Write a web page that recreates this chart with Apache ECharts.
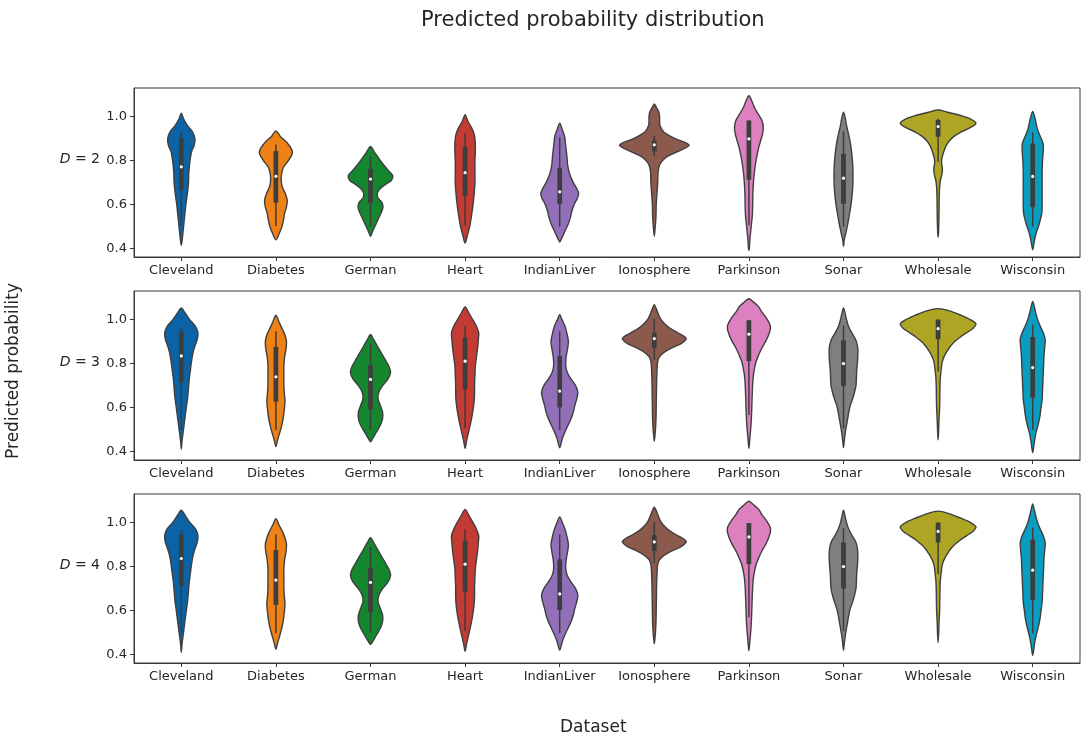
<!DOCTYPE html>
<html>
<head>
<meta charset="utf-8">
<script src="https://cdn.jsdelivr.net/npm/echarts@6/dist/echarts.min.js"></script>
<style>
  html, body { margin: 0; padding: 0; background: #fff; }
  #chart { width: 1081px; height: 738px; }
</style>
</head>
<body>
<div id="chart"></div>
<script>
// Datasets along the x axis of every panel
const categories = ['Cleveland', 'Diabetes', 'German', 'Heart', 'IndianLiver',
  'Ionosphere', 'Parkinson', 'Sonar', 'Wholesale', 'Wisconsin'];
// Tree depth of each panel
const depths = [2, 3, 4];
const yTicks = [0.4, 0.6, 0.8, 1.0];

// Violin profiles: [predicted probability, relative density] from top tip to bottom tip
const shapeD2 = [
  [[1.015,0],[0.99,0.06],[0.96,0.16],[0.93,0.3],[0.90,0.36],[0.87,0.34],[0.84,0.27],[0.80,0.23],[0.75,0.2],[0.70,0.19],[0.65,0.16],[0.60,0.12],[0.55,0.09],[0.50,0.06],[0.45,0.03],[0.415,0]],
  [[0.935,0],[0.91,0.12],[0.88,0.3],[0.85,0.42],[0.83,0.43],[0.80,0.33],[0.77,0.2],[0.74,0.15],[0.71,0.14],[0.68,0.17],[0.65,0.25],[0.62,0.3],[0.59,0.28],[0.56,0.23],[0.53,0.2],[0.50,0.16],[0.47,0.09],[0.44,0]],
  [[0.864,0],[0.84,0.1],[0.81,0.22],[0.78,0.35],[0.75,0.5],[0.73,0.59],[0.71,0.55],[0.69,0.38],[0.67,0.24],[0.65,0.18],[0.63,0.2],[0.61,0.3],[0.59,0.33],[0.57,0.3],[0.54,0.22],[0.51,0.14],[0.48,0.06],[0.456,0]],
  [[1.009,0],[0.98,0.07],[0.95,0.17],[0.92,0.24],[0.88,0.27],[0.84,0.27],[0.80,0.26],[0.75,0.26],[0.70,0.26],[0.65,0.24],[0.60,0.21],[0.55,0.17],[0.50,0.12],[0.46,0.06],[0.425,0]],
  [[0.97,0],[0.94,0.07],[0.91,0.13],[0.88,0.15],[0.85,0.17],[0.82,0.19],[0.78,0.21],[0.74,0.26],[0.70,0.36],[0.67,0.46],[0.65,0.5],[0.63,0.47],[0.60,0.38],[0.57,0.32],[0.54,0.28],[0.51,0.22],[0.48,0.14],[0.45,0.06],[0.43,0]],
  [[1.057,0],[1.04,0.06],[1.02,0.12],[1.0,0.14],[0.98,0.14],[0.96,0.15],[0.93,0.25],[0.90,0.55],[0.88,0.85],[0.87,0.92],[0.86,0.85],[0.84,0.6],[0.82,0.36],[0.80,0.22],[0.78,0.14],[0.75,0.1],[0.70,0.09],[0.65,0.07],[0.60,0.05],[0.55,0.045],[0.52,0.035],[0.49,0.02],[0.456,0]],
  [[1.095,0],[1.07,0.08],[1.04,0.15],[1.01,0.25],[0.98,0.35],[0.95,0.38],[0.92,0.36],[0.89,0.31],[0.86,0.26],[0.82,0.21],[0.78,0.17],[0.74,0.14],[0.70,0.12],[0.65,0.105],[0.60,0.1],[0.55,0.09],[0.50,0.06],[0.45,0.03],[0.40,0.01],[0.393,0]],
  [[1.02,0],[0.99,0.05],[0.96,0.08],[0.93,0.12],[0.90,0.16],[0.87,0.19],[0.83,0.22],[0.79,0.24],[0.75,0.25],[0.71,0.25],[0.67,0.24],[0.63,0.22],[0.59,0.19],[0.55,0.15],[0.51,0.11],[0.47,0.06],[0.44,0.02],[0.41,0]],
  [[1.03,0],[1.02,0.25],[1.005,0.6],[0.99,0.85],[0.97,1.0],[0.95,0.85],[0.93,0.6],[0.91,0.42],[0.89,0.3],[0.87,0.22],[0.85,0.17],[0.83,0.13],[0.81,0.1],[0.79,0.09],[0.77,0.11],[0.75,0.11],[0.73,0.09],[0.71,0.06],[0.68,0.04],[0.64,0.03],[0.58,0.025],[0.52,0.02],[0.47,0.01],[0.453,0]],
  [[1.024,0],[1.0,0.05],[0.97,0.09],[0.94,0.13],[0.91,0.2],[0.88,0.27],[0.85,0.28],[0.80,0.26],[0.75,0.25],[0.70,0.25],[0.65,0.25],[0.60,0.25],[0.56,0.24],[0.53,0.2],[0.50,0.15],[0.47,0.09],[0.44,0.05],[0.41,0.02],[0.395,0]]
];

const shapeD3 = [
  [[1.053,0],[1.03,0.1],[1.0,0.22],[0.97,0.37],[0.94,0.44],[0.91,0.42],[0.88,0.36],[0.85,0.31],[0.81,0.27],[0.77,0.24],[0.73,0.21],[0.69,0.19],[0.65,0.17],[0.61,0.14],[0.57,0.11],[0.53,0.08],[0.49,0.05],[0.45,0.02],[0.412,0]],
  [[1.02,0],[0.99,0.08],[0.96,0.16],[0.93,0.24],[0.90,0.28],[0.87,0.27],[0.83,0.23],[0.79,0.21],[0.75,0.21],[0.71,0.21],[0.67,0.22],[0.63,0.24],[0.59,0.22],[0.55,0.19],[0.51,0.14],[0.48,0.09],[0.45,0.04],[0.423,0]],
  [[0.932,0],[0.91,0.08],[0.88,0.18],[0.85,0.28],[0.82,0.38],[0.79,0.48],[0.76,0.53],[0.73,0.46],[0.70,0.32],[0.67,0.22],[0.64,0.2],[0.61,0.26],[0.58,0.32],[0.55,0.32],[0.52,0.26],[0.49,0.16],[0.46,0.06],[0.445,0]],
  [[1.057,0],[1.03,0.1],[1.0,0.2],[0.97,0.3],[0.94,0.36],[0.91,0.35],[0.87,0.33],[0.83,0.3],[0.79,0.27],[0.75,0.26],[0.71,0.25],[0.67,0.25],[0.63,0.24],[0.59,0.21],[0.55,0.17],[0.51,0.12],[0.48,0.08],[0.45,0.04],[0.415,0]],
  [[1.023,0],[1.0,0.06],[0.97,0.14],[0.93,0.2],[0.90,0.23],[0.87,0.21],[0.83,0.17],[0.79,0.16],[0.76,0.2],[0.73,0.3],[0.70,0.42],[0.67,0.48],[0.64,0.45],[0.61,0.4],[0.58,0.36],[0.55,0.3],[0.52,0.22],[0.49,0.14],[0.46,0.07],[0.418,0]],
  [[1.068,0],[1.05,0.05],[1.02,0.12],[1.0,0.18],[0.98,0.28],[0.96,0.42],[0.94,0.62],[0.92,0.82],[0.91,0.84],[0.89,0.7],[0.87,0.45],[0.85,0.25],[0.83,0.13],[0.81,0.09],[0.78,0.075],[0.74,0.065],[0.70,0.06],[0.65,0.055],[0.60,0.05],[0.55,0.045],[0.50,0.03],[0.47,0.015],[0.448,0]],
  [[1.095,0],[1.08,0.12],[1.06,0.25],[1.04,0.32],[1.01,0.45],[0.98,0.55],[0.96,0.57],[0.93,0.52],[0.90,0.44],[0.87,0.34],[0.84,0.26],[0.81,0.19],[0.78,0.15],[0.75,0.12],[0.71,0.1],[0.67,0.09],[0.62,0.08],[0.57,0.07],[0.52,0.055],[0.48,0.035],[0.45,0.02],[0.415,0]],
  [[1.053,0],[1.03,0.04],[1.0,0.08],[0.97,0.13],[0.94,0.22],[0.91,0.32],[0.88,0.37],[0.85,0.38],[0.81,0.37],[0.77,0.35],[0.73,0.34],[0.70,0.33],[0.67,0.29],[0.64,0.24],[0.61,0.18],[0.58,0.14],[0.55,0.11],[0.52,0.08],[0.49,0.05],[0.45,0.02],[0.418,0]],
  [[1.05,0],[1.04,0.3],[1.02,0.6],[1.0,0.85],[0.98,1.0],[0.96,0.92],[0.94,0.75],[0.92,0.58],[0.90,0.44],[0.88,0.33],[0.86,0.25],[0.84,0.18],[0.82,0.13],[0.80,0.1],[0.77,0.08],[0.74,0.06],[0.70,0.05],[0.65,0.045],[0.60,0.04],[0.55,0.025],[0.50,0.015],[0.453,0]],
  [[1.083,0],[1.06,0.04],[1.03,0.08],[1.0,0.13],[0.97,0.2],[0.94,0.28],[0.91,0.33],[0.88,0.32],[0.84,0.3],[0.80,0.29],[0.76,0.28],[0.72,0.27],[0.68,0.26],[0.64,0.25],[0.60,0.22],[0.56,0.19],[0.52,0.14],[0.48,0.08],[0.44,0.04],[0.395,0]]
];

const shapeD4 = [
  [[1.056,0],[1.03,0.11],[1.0,0.23],[0.97,0.38],[0.94,0.44],[0.91,0.42],[0.88,0.36],[0.85,0.31],[0.81,0.27],[0.77,0.24],[0.73,0.21],[0.69,0.19],[0.65,0.17],[0.61,0.14],[0.57,0.11],[0.53,0.08],[0.49,0.05],[0.45,0.02],[0.41,0]],
  [[1.018,0],[0.99,0.08],[0.96,0.17],[0.93,0.24],[0.90,0.28],[0.87,0.27],[0.83,0.23],[0.79,0.21],[0.75,0.21],[0.71,0.21],[0.67,0.22],[0.63,0.24],[0.59,0.22],[0.55,0.19],[0.51,0.14],[0.48,0.09],[0.45,0.04],[0.425,0]],
  [[0.931,0],[0.91,0.08],[0.88,0.18],[0.85,0.28],[0.82,0.38],[0.79,0.48],[0.76,0.53],[0.73,0.46],[0.70,0.32],[0.67,0.22],[0.64,0.2],[0.61,0.26],[0.58,0.32],[0.55,0.32],[0.52,0.26],[0.49,0.16],[0.46,0.06],[0.447,0]],
  [[1.06,0],[1.03,0.11],[1.0,0.21],[0.97,0.3],[0.94,0.36],[0.91,0.35],[0.87,0.33],[0.83,0.3],[0.79,0.27],[0.75,0.26],[0.71,0.25],[0.67,0.25],[0.63,0.24],[0.59,0.21],[0.55,0.17],[0.51,0.12],[0.48,0.08],[0.45,0.04],[0.415,0]],
  [[1.026,0],[1.0,0.07],[0.97,0.14],[0.93,0.2],[0.90,0.23],[0.87,0.21],[0.83,0.17],[0.79,0.16],[0.76,0.2],[0.73,0.3],[0.70,0.42],[0.67,0.48],[0.64,0.45],[0.61,0.4],[0.58,0.36],[0.55,0.3],[0.52,0.22],[0.49,0.14],[0.46,0.07],[0.42,0]],
  [[1.07,0],[1.05,0.06],[1.02,0.13],[1.0,0.19],[0.98,0.29],[0.96,0.43],[0.94,0.63],[0.92,0.82],[0.91,0.84],[0.89,0.7],[0.87,0.45],[0.85,0.25],[0.83,0.13],[0.81,0.09],[0.78,0.075],[0.74,0.065],[0.70,0.06],[0.65,0.055],[0.60,0.05],[0.55,0.045],[0.50,0.03],[0.47,0.015],[0.45,0]],
  [[1.097,0],[1.08,0.13],[1.06,0.26],[1.04,0.33],[1.01,0.46],[0.98,0.56],[0.96,0.57],[0.93,0.52],[0.90,0.44],[0.87,0.34],[0.84,0.26],[0.81,0.19],[0.78,0.15],[0.75,0.12],[0.71,0.1],[0.67,0.09],[0.62,0.08],[0.57,0.07],[0.52,0.055],[0.48,0.035],[0.45,0.02],[0.418,0]],
  [[1.056,0],[1.03,0.04],[1.0,0.08],[0.97,0.14],[0.94,0.23],[0.91,0.33],[0.88,0.37],[0.85,0.38],[0.81,0.37],[0.77,0.35],[0.73,0.34],[0.70,0.33],[0.67,0.29],[0.64,0.24],[0.61,0.18],[0.58,0.14],[0.55,0.11],[0.52,0.08],[0.49,0.05],[0.45,0.02],[0.42,0]],
  [[1.052,0],[1.04,0.3],[1.02,0.6],[1.0,0.86],[0.98,1.0],[0.96,0.92],[0.94,0.75],[0.92,0.58],[0.90,0.44],[0.88,0.33],[0.86,0.25],[0.84,0.18],[0.82,0.13],[0.80,0.1],[0.77,0.08],[0.74,0.06],[0.70,0.05],[0.65,0.045],[0.60,0.04],[0.55,0.025],[0.50,0.015],[0.455,0]],
  [[1.085,0],[1.06,0.04],[1.03,0.08],[1.0,0.13],[0.97,0.2],[0.94,0.28],[0.91,0.33],[0.88,0.32],[0.84,0.3],[0.80,0.29],[0.76,0.28],[0.72,0.27],[0.68,0.26],[0.64,0.25],[0.60,0.22],[0.56,0.19],[0.52,0.14],[0.48,0.08],[0.44,0.04],[0.397,0]]
];

// Inner box statistics: [lower whisker, Q1, median, Q3, upper whisker]
const boxD2 = [
  [0.50, 0.665, 0.772, 0.903, 0.929],
  [0.503, 0.609, 0.729, 0.843, 0.873],
  [0.50, 0.607, 0.716, 0.763, 0.82],
  [0.504, 0.639, 0.745, 0.861, 0.924],
  [0.50, 0.604, 0.658, 0.766, 0.906],
  [0.82, 0.843, 0.872, 0.891, 0.914],
  [0.506, 0.713, 0.899, 0.982, 0.985],
  [0.50, 0.604, 0.72, 0.831, 0.933],
  [0.795, 0.909, 0.955, 0.985, 0.99],
  [0.50, 0.588, 0.728, 0.877, 0.929]
];
const boxD3 = [
  [0.498, 0.714, 0.835, 0.947, 0.967],
  [0.498, 0.627, 0.74, 0.876, 0.947],
  [0.498, 0.592, 0.728, 0.793, 0.891],
  [0.506, 0.684, 0.811, 0.918, 0.971],
  [0.498, 0.601, 0.675, 0.834, 0.947],
  [0.816, 0.872, 0.914, 0.941, 1.005],
  [0.566, 0.811, 0.934, 0.997, 0.997],
  [0.506, 0.699, 0.80, 0.906, 0.974],
  [0.763, 0.911, 0.959, 1.0, 1.0],
  [0.498, 0.645, 0.782, 0.921, 0.977]
];
const boxD4 = [
  [0.498, 0.713, 0.837, 0.946, 0.965],
  [0.498, 0.626, 0.739, 0.875, 0.946],
  [0.498, 0.593, 0.728, 0.792, 0.89],
  [0.506, 0.686, 0.811, 0.917, 0.97],
  [0.498, 0.603, 0.676, 0.833, 0.946],
  [0.815, 0.872, 0.912, 0.943, 1.003],
  [0.57, 0.811, 0.935, 0.998, 0.998],
  [0.506, 0.70, 0.80, 0.91, 0.975],
  [0.765, 0.91, 0.96, 1.0, 1.0],
  [0.498, 0.649, 0.784, 0.923, 0.978]
];

const shapes = [shapeD2, shapeD3, shapeD4];
const boxes = [boxD2, boxD3, boxD4];

// Styling
const palette = ['#0b63a5', '#ee8116', '#14872e', '#c43b33', '#9270b9',
  '#8b5a4c', '#dd80bf', '#7f7f7f', '#ada523', '#0a9dc2'];
const FONT = 'DejaVu Sans';
const INK = '#262626';
const EDGE = '#3f3f3f';
const panelTops = [88, 291, 494];
const panelHeight = 169;
const yMin = 0.362, yMax = 1.13;

function violinRenderer(panelShapes, panelBoxes) {
  return function (params, api) {
    const j = api.value(0);
    const prof = panelShapes[j];
    const band = api.size([1, 0])[0];
    const half = 0.4 * band;
    const right = [], left = [];
    prof.forEach(function (p) {
      const c = api.coord([j, p[0]]);
      right.push([c[0] + p[1] * half, c[1]]);
      left.push([c[0] - p[1] * half, c[1]]);
    });
    const n = prof.length;
    const pts = [];
    for (let k = 0; k < n; k++) pts.push(right[k]);
    for (let k = n - 2; k >= 1; k--) pts.push(left[k]);

    const b = panelBoxes[j];
    const lo = api.coord([j, b[0]]);
    const q1 = api.coord([j, b[1]]);
    const med = api.coord([j, b[2]]);
    const q3 = api.coord([j, b[3]]);
    const hi = api.coord([j, b[4]]);
    const bw = band * 0.05;

    return {
      type: 'group',
      children: [
        {
          type: 'polygon',
          shape: { points: pts, smooth: 0.3 },
          style: { fill: palette[j], stroke: EDGE, lineWidth: 1.4 }
        },
        {
          type: 'line',
          shape: { x1: lo[0], y1: lo[1], x2: hi[0], y2: hi[1] },
          style: { stroke: '#3d3d3d', lineWidth: 1.5 }
        },
        {
          type: 'rect',
          shape: { x: q3[0] - bw / 2, y: q3[1], width: bw, height: q1[1] - q3[1] },
          style: { fill: '#3d3d3d' }
        },
        {
          type: 'circle',
          shape: { cx: med[0], cy: med[1], r: 1.6 },
          style: { fill: '#ffffff' }
        }
      ]
    };
  };
}

const grids = [], xAxes = [], yAxes = [], series = [], graphics = [];
depths.forEach(function (d, i) {
  grids.push({
    left: 134, width: 946, top: panelTops[i], height: panelHeight,
    show: true, borderColor: '#3a3a3a', borderWidth: 1, backgroundColor: 'transparent'
  });
  xAxes.push({
    type: 'category', gridIndex: i, data: categories, boundaryGap: true,
    axisLine: { show: true, lineStyle: { color: '#3a3a3a', width: 1 } },
    axisTick: { show: true, alignWithLabel: true, length: 4, lineStyle: { color: '#3a3a3a' } },
    axisLabel: { color: INK, fontSize: 13, fontFamily: FONT, margin: 7, interval: 0 },
    splitLine: { show: false }
  });
  yAxes.push({
    type: 'value', gridIndex: i, min: yMin, max: yMax,
    axisLine: { show: true, lineStyle: { color: '#3a3a3a', width: 1 } },
    axisTick: { show: true, length: 4, customValues: yTicks, lineStyle: { color: '#3a3a3a' } },
    axisLabel: {
      customValues: yTicks, color: INK, fontSize: 13, fontFamily: FONT, margin: 7,
      formatter: function (v) { return Number(v).toFixed(1); }
    },
    splitLine: { show: false }
  });
  series.push({
    type: 'custom', xAxisIndex: i, yAxisIndex: i,
    data: categories.map(function (c, j) { return [j]; }),
    encode: { x: 0 },
    renderItem: violinRenderer(shapes[i], boxes[i]),
    silent: true, animation: false
  });
  graphics.push({
    type: 'text', right: 1081 - 100,
    top: panelTops[i] + 64,
    style: {
      text: '{i|D} = ' + d,
      font: '14px ' + FONT, fill: INK,
      rich: { i: { fontStyle: 'italic', fontSize: 14, fontFamily: FONT, fill: INK } }
    }
  });
});

graphics.push({
  type: 'text', left: 421, top: 10,
  style: { text: 'Predicted probability distribution', font: '21px ' + FONT, fill: INK }
});
graphics.push({
  type: 'text', top: 719, left: 560,
  style: { text: 'Dataset', font: '17px ' + FONT, fill: INK }
});
graphics.push({
  type: 'text', left: 5, top: 283, rotation: Math.PI / 2,
  style: { text: 'Predicted probability', font: '17px ' + FONT, fill: INK }
});

const chart = echarts.init(document.getElementById('chart'), null, { renderer: 'canvas' });
chart.setOption({
  backgroundColor: '#ffffff',
  animation: false,
  grid: grids,
  xAxis: xAxes,
  yAxis: yAxes,
  series: series,
  graphic: graphics
});
</script>
</body>
</html>
